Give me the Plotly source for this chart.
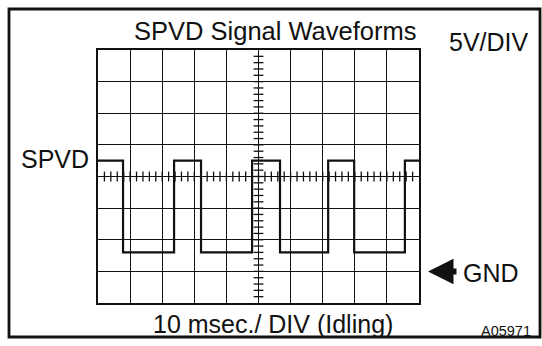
import plotly.graph_objects as go

# Oscilloscope settings
time_per_div_ms = 10
volts_per_div = 5
n_x_div = 10
n_y_div = 8
gnd_level_v = 0

# SPVD trace: edge times (ms) and the level held from each edge (V)
edge_times_ms = [0, 7.8, 23.7, 32.1, 48.0, 56.7, 71.7, 79.8, 95.6, 100]
edge_levels_v = [17.5, 3, 17.5, 3, 17.5, 3, 17.5, 3, 17.5, 17.5]

title_text = "SPVD Signal Waveforms"
scale_text = "5V/DIV"
trace_label = "SPVD"
gnd_label = "GND"
time_text = "10 msec./ DIV (Idling)"
figure_id = "A05971"

W, H = 542, 346
L, R, T, B = 98, 419, 50, 303  # plot-area edges in pixels

x_range = [0, n_x_div * time_per_div_ms]
y_bottom = gnd_level_v - volts_per_div
y_range = [y_bottom, y_bottom + n_y_div * volts_per_div]
x_mid = sum(x_range) / 2
y_mid = sum(y_range) / 2


def px(x):
    return (x - L) / (R - L)


def py(y):
    return (B - y) / (B - T)


FONT = "Liberation Sans, Arial, Helvetica, sans-serif"
INK = "#111111"

fig = go.Figure()

# graticule minor ticks along the two centre lines
minor_x = [x_range[0] + i * time_per_div_ms / 5 for i in range(1, n_x_div * 5)]
minor_y = [y_range[0] + i * volts_per_div / 5 for i in range(1, n_y_div * 5)]
fig.add_trace(go.Scatter(
    x=minor_x, y=[y_mid] * len(minor_x), mode="markers",
    marker=dict(symbol="line-ns", size=7, line=dict(color=INK, width=1.3)),
    hoverinfo="skip", showlegend=False))
fig.add_trace(go.Scatter(
    x=[x_mid] * len(minor_y), y=minor_y, mode="markers",
    marker=dict(symbol="line-ew", size=7, line=dict(color=INK, width=1.3)),
    hoverinfo="skip", showlegend=False))

# the SPVD square wave
fig.add_trace(go.Scatter(
    x=edge_times_ms, y=edge_levels_v, mode="lines", line_shape="hv",
    line=dict(color=INK, width=2.2), hoverinfo="skip", showlegend=False))

axis_common = dict(showgrid=True, gridcolor=INK, gridwidth=1.4, zeroline=False,
                   showline=True, linecolor=INK, linewidth=1.6, mirror=True,
                   showticklabels=False, ticks="", fixedrange=True)
fig.update_xaxes(range=x_range, dtick=time_per_div_ms, tick0=0, **axis_common)
fig.update_yaxes(range=y_range, dtick=volts_per_div, tick0=y_range[0], **axis_common)

# outer frame
fig.add_shape(type="rect", xref="paper", yref="paper",
              x0=px(9), x1=px(540), y0=py(337), y1=py(9),
              line=dict(color=INK, width=2.8))


def label(text, x, y, size, xanchor="center"):
    fig.add_annotation(text=text, xref="paper", yref="paper", x=px(x), y=py(y),
                       xanchor=xanchor, yanchor="middle", showarrow=False,
                       font=dict(family=FONT, size=size, color=INK))


label(title_text, 275, 31, 25.5)
label(scale_text, 489, 42, 25)
label(trace_label, 91, 159, 25, xanchor="right")
label(gnd_label, 491, 273, 25)
label(time_text, 273, 324, 25)
label(figure_id, 533, 331, 14.5, xanchor="right")

# arrow pointing at the ground level
fig.add_annotation(text="", xref="paper", yref="y", x=px(428), y=gnd_level_v,
                   ax=30, ay=0, showarrow=True, arrowhead=2, arrowsize=0.85,
                   arrowwidth=6, arrowcolor=INK)

fig.update_layout(width=W, height=H, margin=dict(l=L, r=W - R, t=T, b=H - B),
                  paper_bgcolor="white", plot_bgcolor="white", showlegend=False)

fig.write_html("out.html", config={"displayModeBar": False})
